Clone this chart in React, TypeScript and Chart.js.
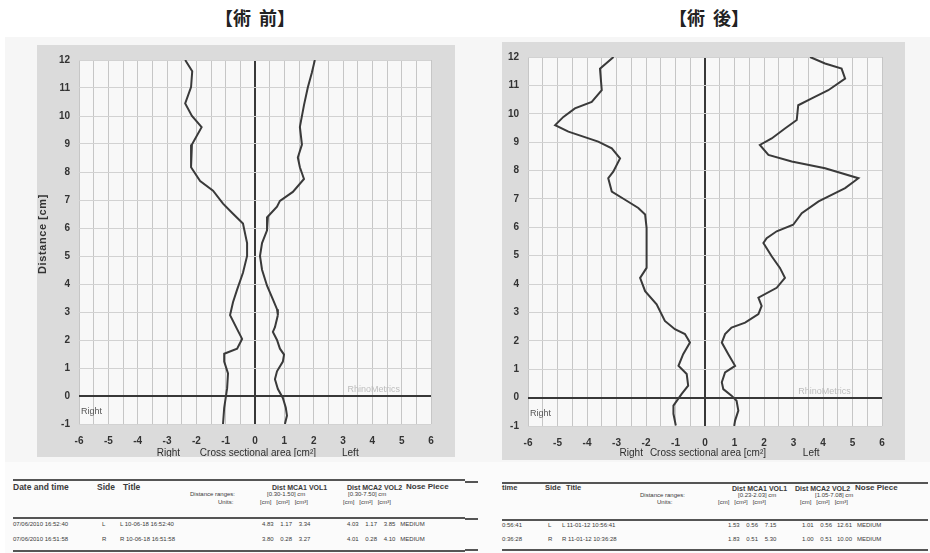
import React, { useEffect, useRef } from 'react';
import { Chart, registerables } from 'chart.js';

Chart.register(...registerables);

const FONT = '"Liberation Sans", Arial, Helvetica, sans-serif';
const CJK = '"Noto Sans CJK JP", "Noto Sans CJK SC", sans-serif';

// Axis ranges
const X_MIN = -6;
const X_MAX = 6;
const Y_MIN = -1;
const Y_MAX = 12;

// Titles
const TITLE_PRE = '【術 前】';
const TITLE_POST = '【術 後】';

// Pre-op (術前): right nasal cavity (negative area side)
const PRE_RIGHT_AREA = [-2.38, -2.14, -2.18, -2.38, -2.15, -1.82, -2.15, -2.18, -1.87, -1.43, -1.09, -0.75, -0.41, -0.27, -0.27, -0.41, -0.61, -0.75, -0.85, -0.61, -0.44, -0.61, -1.05, -1.05, -0.92, -0.95, -1.05, -1.09];
const PRE_RIGHT_DIST = [12, 11.6, 11.03, 10.45, 10.0, 9.6, 8.98, 8.17, 7.68, 7.33, 6.87, 6.51, 6.16, 5.46, 5.0, 4.4, 3.8, 3.35, 2.89, 2.39, 2.04, 1.69, 1.51, 1.23, 0.81, 0.28, -0.42, -1.0];
// Pre-op: left nasal cavity (positive area side)
const PRE_LEFT_AREA = [2.04, 1.94, 1.8, 1.67, 1.53, 1.6, 1.46, 1.53, 1.67, 1.29, 0.85, 0.75, 0.44, 0.41, 0.24, 0.17, 0.24, 0.41, 0.61, 0.75, 0.78, 0.68, 0.61, 0.75, 0.85, 0.99, 0.95, 0.75, 0.68, 0.78, 0.95, 1.05, 1.09, 1.02];
const PRE_LEFT_DIST = [12, 11.55, 11.02, 10.39, 9.61, 8.98, 8.52, 8.17, 7.75, 7.29, 6.97, 6.76, 6.41, 5.92, 5.46, 5.0, 4.51, 3.94, 3.45, 3.1, 2.89, 2.46, 2.29, 2.0, 1.69, 1.48, 1.23, 0.88, 0.6, 0.25, -0.07, -0.42, -0.7, -1.0];

// Post-op (術後): right nasal cavity
const POST_RIGHT_AREA = [-3.1, -3.56, -3.5, -3.84, -4.41, -4.8, -5.08, -4.63, -3.62, -3.16, -2.88, -3.11, -3.28, -3.16, -2.71, -2.26, -2.03, -1.98, -1.98, -2.2, -2.03, -1.64, -1.36, -1.02, -0.68, -0.51, -0.74, -0.9, -0.62, -0.57, -0.79, -1.07, -1.07, -0.99];
const POST_RIGHT_DIST = [12, 11.59, 10.83, 10.42, 10.19, 9.89, 9.6, 9.37, 9.02, 8.78, 8.43, 7.96, 7.73, 7.26, 6.97, 6.68, 6.45, 5.98, 4.57, 4.22, 3.75, 3.29, 2.7, 2.41, 2.24, 1.94, 1.53, 1.12, 0.83, 0.42, 0.13, -0.28, -0.57, -0.98];
// Post-op: left nasal cavity
const POST_LEFT_AREA = [3.56, 4.07, 4.63, 4.75, 4.18, 3.62, 3.16, 3.11, 2.71, 2.26, 1.86, 2.15, 2.94, 4.07, 5.2, 4.75, 3.85, 3.28, 2.99, 2.43, 2.09, 1.98, 2.26, 2.54, 2.71, 2.43, 1.81, 1.92, 1.81, 1.36, 0.9, 0.68, 0.57, 0.79, 1.02, 0.68, 0.57, 0.62, 0.9, 1.07, 1.13, 1.02, 0.99];
const POST_LEFT_DIST = [12, 11.77, 11.59, 11.24, 10.83, 10.54, 10.3, 9.78, 9.48, 9.13, 8.9, 8.55, 8.32, 8.08, 7.73, 7.38, 6.91, 6.5, 6.09, 5.86, 5.62, 5.45, 4.98, 4.57, 4.22, 3.87, 3.52, 3.23, 2.94, 2.64, 2.47, 2.24, 1.94, 1.53, 1.12, 0.89, 0.54, 0.3, 0.07, -0.11, -0.46, -0.81, -1.0];

// Axis texts
const Y_TITLE = 'Distance [cm]';
const X_TITLE_RIGHT = 'Right';
const X_TITLE_MID = 'Cross sectional area [cm²]';
const X_TITLE_LEFT = 'Left';
const WATERMARK = 'RhinoMetrics';

// Tables
const PRE_HEAD = ['Date and time', 'Side', 'Title', 'Dist MCA1 VOL1', 'Dist MCA2 VOL2', 'Nose Piece'];
const POST_HEAD = ['time', 'Side', 'Title', 'Dist MCA1 VOL1', 'Dist MCA2 VOL2', 'Nose Piece'];
const PRE_RANGES = ['Distance ranges:', '[0.30-1.50] cm', '[0.30-7.50] cm'];
const POST_RANGES = ['Distance ranges:', '[0.23-2.03] cm', '[1.05-7.08] cm'];
const UNITS = ['Units:', '[cm]   [cm²]   [cm³]', '[cm]   [cm²]   [cm³]'];
const PRE_ROWS = [
  ['07/06/2010 16:52:40', 'L', 'L 10-06-18 16:52:40', '4.83    1.17    3.34', '4.03    1.17    3.85   MEDIUM'],
  ['07/06/2010 16:51:58', 'R', 'R 10-06-18 16:51:58', '3.80    0.28    3.27', '4.01    0.28    4.10   MEDIUM'],
];
const POST_ROWS = [
  ['0:56:41', 'L', 'L 11-01-12 10:56:41', '1.53    0.56    7.15', '1.01    0.56   12.61   MEDIUM'],
  ['0:36:28', 'R', 'R 11-01-12 10:36:28', '1.83    0.51    5.30', '1.00    0.51   10.00   MEDIUM'],
];

const panelPlugin = {
  id: 'panel',
  beforeDraw(chart: any) {
    const { ctx, chartArea: a, width, height } = chart;
    ctx.save();
    ctx.fillStyle = '#dbdbdb';
    ctx.fillRect(0, 0, width, height);
    ctx.fillStyle = '#f8f8f8';
    ctx.fillRect(a.left, a.top, a.right - a.left, a.bottom - a.top);
    ctx.restore();
  },
  afterDraw(chart: any, _a: any, opts: any) {
    const { ctx, chartArea: a } = chart;
    const x = chart.scales.x;
    const y = chart.scales.y;
    ctx.save();
    ctx.fillStyle = '#2e2e2e';
    ctx.textBaseline = 'middle';
    ctx.textAlign = 'center';
    ctx.font = `10px ${FONT}`;
    ctx.fillText(X_TITLE_RIGHT, x.getPixelForValue(opts.rightAt), opts.titleY);
    ctx.fillText(X_TITLE_MID, x.getPixelForValue(opts.midAt), opts.titleY);
    ctx.fillText(X_TITLE_LEFT, x.getPixelForValue(opts.leftAt), opts.titleY);
    ctx.textAlign = 'left';
    ctx.font = `9px ${FONT}`;
    ctx.fillStyle = '#555';
    ctx.fillText(X_TITLE_RIGHT, a.left + 2, y.getPixelForValue(-0.55));
    ctx.textAlign = 'center';
    ctx.fillStyle = '#bdbdbd';
    ctx.fillText(WATERMARK, x.getPixelForValue(4.05), y.getPixelForValue(0.22));
    if (opts.yTitle) {
      ctx.save();
      ctx.translate(opts.yTitle.x, opts.yTitle.y);
      ctx.rotate(-Math.PI / 2);
      ctx.fillStyle = '#333';
      ctx.font = `bold 11px ${FONT}`;
      (ctx as any).letterSpacing = '0.6px';
      ctx.textAlign = 'center';
      ctx.fillText(Y_TITLE, 0, 0);
      ctx.restore();
    }
    ctx.restore();
  },
};

function toPoints(xs: number[], ys: number[]) {
  return xs.map((v, i) => ({ x: v, y: ys[i] }));
}

type PanelCfg = {
  rx: number[]; ry: number[]; lx: number[]; ly: number[];
  w: number; h: number; padTop: number; padRight: number; yAxisW: number; xAxisH: number;
  titleY: number; rightAt: number; midAt: number; leftAt: number;
  yTitle?: { x: number; y: number };
};

function Panel({ cfg, left, top }: { cfg: PanelCfg; left: number; top: number }) {
  const ref = useRef<HTMLCanvasElement>(null);
  useEffect(() => {
    if (!ref.current) return;
    const line = { showLine: true, borderColor: '#3a3a3a', borderWidth: 2, pointRadius: 0, tension: 0, fill: false };
    const tickFont = { size: 10, weight: 'bold' as const, family: FONT };
    const chart = new Chart(ref.current, {
      type: 'scatter',
      data: {
        datasets: [
          { ...line, data: toPoints(cfg.rx, cfg.ry) },
          { ...line, data: toPoints(cfg.lx, cfg.ly) },
        ],
      },
      options: {
        animation: false,
        responsive: false,
        maintainAspectRatio: false,
        events: [],
        layout: { padding: { left: 0, top: cfg.padTop, right: cfg.padRight, bottom: 0 } },
        plugins: {
          legend: { display: false },
          tooltip: { enabled: false },
          panel: {
            titleY: cfg.titleY, rightAt: cfg.rightAt, midAt: cfg.midAt, leftAt: cfg.leftAt,
            yTitle: cfg.yTitle,
          },
        } as any,
        scales: {
          x: {
            type: 'linear', min: X_MIN, max: X_MAX,
            ticks: {
              stepSize: 0.5, autoSkip: false, maxRotation: 0, minRotation: 0, padding: 11,
              color: '#333', font: tickFont,
              callback: (v: any) => (Number.isInteger(v) ? String(v) : ''),
            },
            grid: {
              drawTicks: false,
              color: (c: any) => (c.tick && c.tick.value === 0 ? '#383838' : '#c6c6c6'),
              lineWidth: (c: any) => (c.tick && c.tick.value === 0 ? 2 : 1),
            },
            border: { display: false },
            afterFit: (s: any) => { s.height = cfg.xAxisH; },
          },
          y: {
            type: 'linear', min: Y_MIN, max: Y_MAX,
            ticks: { stepSize: 1, autoSkip: false, padding: 9, color: '#333', font: tickFont },
            grid: {
              drawTicks: false,
              color: (c: any) => (c.tick && c.tick.value === 0 ? '#383838' : '#d2d2d2'),
              lineWidth: (c: any) => (c.tick && c.tick.value === 0 ? 2 : 1),
            },
            border: { display: false },
            afterFit: (s: any) => { s.width = cfg.yAxisW; },
          },
        },
      } as any,
      plugins: [panelPlugin as any],
    });
    return () => chart.destroy();
  }, []);
  return (
    <canvas
      ref={ref}
      width={cfg.w}
      height={cfg.h}
      style={{ position: 'absolute', left, top, width: cfg.w, height: cfg.h }}
    />
  );
}

function Txt({ x, y, t, size = 6, bold = false }: any) {
  return (
    <span
      style={{
        position: 'absolute', left: x, top: y, transform: 'translateY(-50%)',
        fontFamily: FONT, fontSize: size, fontWeight: bold ? 700 : 400, color: '#3a3a3a',
        whiteSpace: 'pre', lineHeight: 1,
      }}
    >
      {t}
    </span>
  );
}

function HLine({ x1, x2, y, w = 1.5 }: any) {
  return <div style={{ position: 'absolute', left: x1, top: y, width: x2 - x1, height: w, background: '#555' }} />;
}

function Table({ cols, head, rows, ranges, lines }: any) {
  const c = cols;
  return (
    <>
      {lines.map((l: any, i: number) => <HLine key={'l' + i} {...l} />)}
      <Txt x={c.date} y={c.yHead} t={head[0]} size={c.hs} bold />
      <Txt x={c.side} y={c.yHead} t={head[1]} size={c.hs} bold />
      <Txt x={c.title} y={c.yHead} t={head[2]} size={c.hs} bold />
      <Txt x={c.v1} y={c.yHead} t={head[3]} size={7} bold />
      <Txt x={c.v2} y={c.yHead} t={head[4]} size={7} bold />
      <Txt x={c.nose} y={c.yHead} t={head[5]} size={8} bold />
      <Txt x={c.rangeLbl} y={c.yRange} t={ranges[0]} size={6} />
      <Txt x={c.r1} y={c.yRange} t={ranges[1]} size={6} />
      <Txt x={c.r2} y={c.yRange} t={ranges[2]} size={6} />
      <Txt x={c.unitLbl} y={c.yUnit} t={UNITS[0]} size={6} />
      <Txt x={c.u1} y={c.yUnit} t={UNITS[1]} size={6} />
      <Txt x={c.u2} y={c.yUnit} t={UNITS[2]} size={6} />
      {rows.map((r: string[], i: number) => (
        <React.Fragment key={i}>
          <Txt x={c.date} y={c.yRows[i]} t={r[0]} size={6} />
          <Txt x={c.sideV} y={c.yRows[i]} t={r[1]} size={6} />
          <Txt x={c.titleV} y={c.yRows[i]} t={r[2]} size={6} />
          <Txt x={c.d1} y={c.yRows[i]} t={r[3]} size={6} />
          <Txt x={c.d2} y={c.yRows[i]} t={r[4]} size={6} />
        </React.Fragment>
      ))}
    </>
  );
}

const titleStyle: any = {
  position: 'absolute', top: 17, transform: 'translate(-50%,-50%)', fontFamily: CJK,
  fontSize: 18, fontWeight: 700, color: '#222', whiteSpace: 'pre', wordSpacing: 4,
};

export default function App() {
  const pre: PanelCfg = {
    rx: PRE_RIGHT_AREA, ry: PRE_RIGHT_DIST, lx: PRE_LEFT_AREA, ly: PRE_LEFT_DIST,
    w: 418, h: 412, padTop: 10, padRight: 24, yAxisW: 42, xAxisH: 33,
    titleY: 408, rightAt: -2.95, midAt: 0.1, leftAt: 3.25,
    yTitle: { x: 6, y: 189 },
  };
  const post: PanelCfg = {
    rx: POST_RIGHT_AREA, ry: POST_RIGHT_DIST, lx: POST_LEFT_AREA, ly: POST_LEFT_DIST,
    w: 403, h: 418, padTop: 13, padRight: 23, yAxisW: 26, xAxisH: 34,
    titleY: 411, rightAt: -2.5, midAt: 0.1, leftAt: 3.6,
  };
  return (
    <div style={{ position: 'absolute', left: 0, top: 0, width: 930, height: 553, background: '#ffffff', overflow: 'hidden' }}>
      <div style={{ position: 'absolute', left: 5, top: 37, width: 925, height: 516, background: '#f6f6f6' }} />
      <div style={{ position: 'absolute', left: 5, top: 462, width: 925, height: 91, background: '#fbfbfb' }} />
      <div style={{ ...titleStyle, left: 255 }}>{TITLE_PRE}</div>
      <div style={{ ...titleStyle, left: 709 }}>{TITLE_POST}</div>
      <Panel cfg={pre} left={37} top={45} />
      <Panel cfg={post} left={502} top={42} />
      <Table
        cols={{ hs: 8.5, date: 13, side: 97, title: 123, v1: 272, v2: 347, nose: 406, yHead: 487, rangeLbl: 190, r1: 267, r2: 348, yRange: 494, unitLbl: 218, u1: 260, u2: 343, yUnit: 502, sideV: 102, titleV: 120, d1: 262, d2: 347, yRows: [524, 539] }}
        head={PRE_HEAD}
        rows={PRE_ROWS}
        ranges={PRE_RANGES}
        lines={[{ x1: 13, x2: 465, y: 479 }, { x1: 13, x2: 465, y: 517 }, { x1: 13, x2: 465, y: 550 }]}
      />
      <Table
        cols={{ hs: 7.5, date: 502, side: 545, title: 566, v1: 732, v2: 795, nose: 855, yHead: 488, rangeLbl: 640, r1: 738, r2: 815, yRange: 495, unitLbl: 657, u1: 718, u2: 800, yUnit: 502, sideV: 548, titleV: 562, d1: 728, d2: 802, yRows: [525, 539] }}
        head={POST_HEAD}
        rows={POST_ROWS}
        ranges={POST_RANGES}
        lines={[{ x1: 465, x2: 478, y: 481 }, { x1: 502, x2: 928, y: 482 }, { x1: 465, x2: 478, y: 518 }, { x1: 502, x2: 928, y: 519 }, { x1: 465, x2: 478, y: 549 }, { x1: 502, x2: 928, y: 549 }]}
      />
    </div>
  );
}
